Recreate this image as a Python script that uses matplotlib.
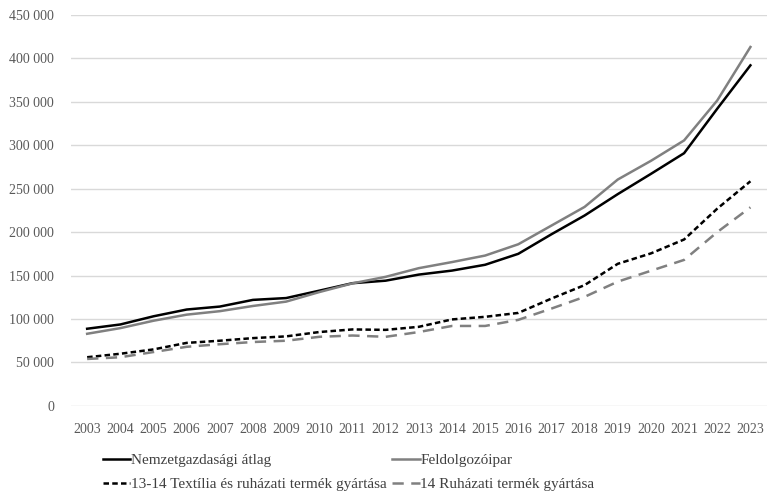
import matplotlib
matplotlib.use('Agg')
import matplotlib.pyplot as plt
from matplotlib.ticker import FuncFormatter

plt.rcParams['font.family'] = ['Liberation Serif', 'DejaVu Serif']

years = list(range(2003, 2024))
nemzetgazdasagi = [88800, 93700, 103100, 110900, 114300, 122000, 124100, 132600, 141200, 144100,
                   151100, 155700, 162400, 175000, 197500, 219100, 243700, 267000, 290800, 342000, 391900]
feldolgozoipar = [83000, 89500, 98000, 105000, 109000, 115000, 120000, 131000, 141000, 148500,
                  158500, 165500, 173000, 186000, 207500, 229000, 260500, 282000, 305500, 351500, 413000]
textil_ruhazat = [56000, 60000, 65000, 72500, 75000, 78000, 80000, 85000, 88000, 87500,
                  91000, 99500, 102500, 107000, 123500, 139000, 163500, 175500, 191500, 227000, 258500]
ruhazat = [54000, 56000, 62000, 68000, 71000, 73500, 75000, 79500, 81000, 79500,
           85000, 92000, 92000, 99000, 112000, 125500, 143000, 155500, 168000, 200000, 228500]

labels = ['Nemzetgazdasági átlag', 'Feldolgozóipar',
          '13-14 Textília és ruházati termék gyártása', '14 Ruházati termék gyártása']

fig = plt.figure(figsize=(7.67, 4.95), dpi=100)
ax = fig.add_axes([0.092, 0.18, 0.908, 0.79])

x = list(range(len(years)))
l1, = ax.plot(x, nemzetgazdasagi, color='black', lw=1.8)
l2, = ax.plot(x, feldolgozoipar, color='#808080', lw=1.8)
l3, = ax.plot(x, textil_ruhazat, color='black', lw=1.8, dashes=(2.2, 1.3))
l4, = ax.plot(x, ruhazat, color='#808080', lw=1.8, dashes=(4.5, 3))

ax.set_xlim(-0.5, len(years) - 0.5)
ax.set_ylim(0, 450000)
ax.set_yticks(range(0, 450001, 50000))
ax.yaxis.set_major_formatter(FuncFormatter(lambda v, p: f'{int(v):,}'.replace(',', ' ')))
ax.set_xticks(x)
ax.set_xticklabels([str(y) for y in years])
ax.grid(axis='y', color='#d9d9d9', lw=1)
ax.set_axisbelow(True)
for s in ax.spines.values():
    s.set_visible(False)
ax.tick_params(length=0, labelsize=10, labelcolor='#595959')
ax.tick_params(axis='y', pad=12)
ax.tick_params(axis='x', pad=12)

# two-column legend, filled row by row
fig.legend([l1, l3, l2, l4], [labels[0], labels[2], labels[1], labels[3]],
           loc='center left', bbox_to_anchor=(0.134, 0.046), ncol=2, frameon=False,
           fontsize=11, handlelength=1.8, handletextpad=0.05, columnspacing=0.35,
           labelspacing=0.65, borderpad=0, borderaxespad=0, labelcolor='#404040')

fig.savefig('out.png', dpi=100)
